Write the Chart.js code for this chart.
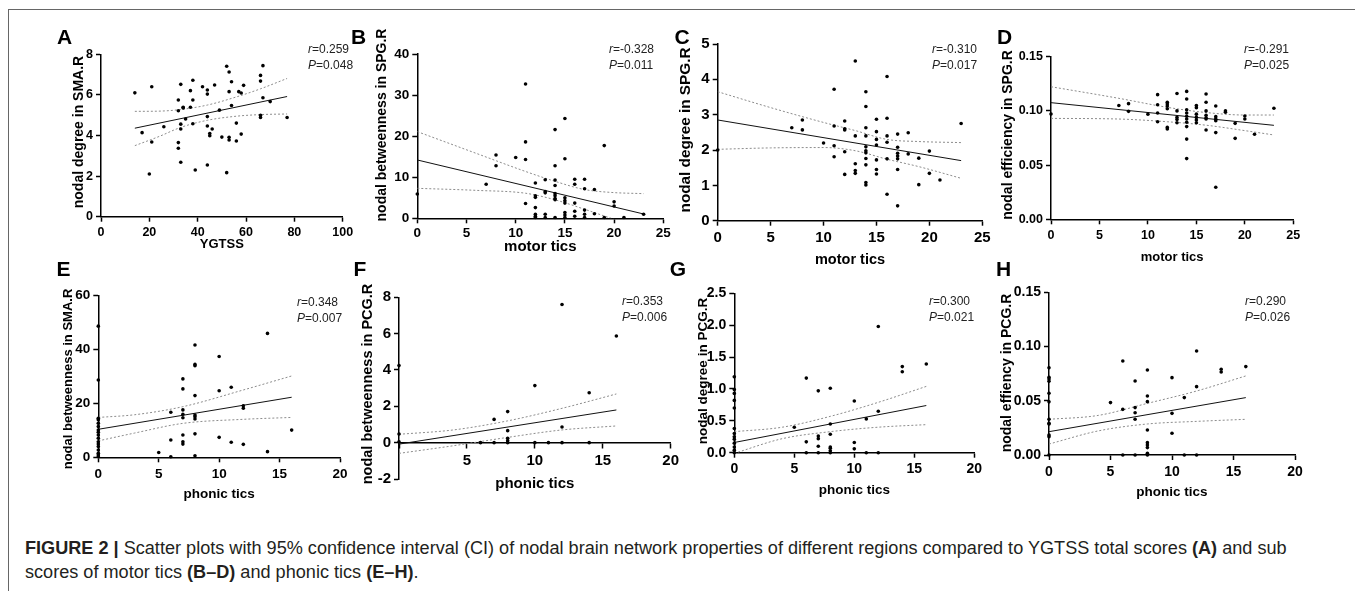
<!DOCTYPE html>
<html>
<head>
<meta charset="utf-8">
<script src="https://cdn.jsdelivr.net/npm/chart.js@4.4.0/dist/chart.umd.min.js"></script>
<style>
  body { margin: 0; width: 1355px; height: 591px; background: #fff; position: relative; overflow: hidden; font-family: "Liberation Sans", Arial, sans-serif; }
  .frame { position: absolute; left: 8px; top: 9px; width: 1400px; height: 700px; border-left: 1px solid #666; border-top: 1px solid #666; }
  canvas { position: absolute; }
  .lab { position: absolute; font-weight: bold; font-size: 21px; line-height: 21px; transform: translate(-50%, -50%); color: #000; }
  .ytitle { position: absolute; font-weight: bold; white-space: nowrap; color: #000; transform: translate(-50%, -50%) rotate(-90deg); line-height: 1; }
  .stat { position: absolute; font-size: 12px; line-height: 16px; color: #222; white-space: nowrap; }
  .caption { position: absolute; left: 25px; top: 536px; font-size: 17px; line-height: 24px; color: #231f20; white-space: nowrap; }
</style>
</head>
<body>
<div class="frame"></div>
<div class="caption" id="caption"><span id="capLine1"><b>FIGURE 2 |</b> Scatter plots with 95% confidence interval (CI) of nodal brain network properties of different regions compared to YGTSS total scores <b>(A)</b> and sub</span><br>scores of motor tics <b>(B–D)</b> and phonic tics <b>(E–H)</b>.</div>
<script>
// ---- data ----
const rValues = ["0.259", "-0.328", "-0.310", "-0.291", "0.348", "0.353", "0.300", "0.290"];
const pValues = ["0.048", "0.011", "0.017", "0.025", "0.007", "0.006", "0.021", "0.026"];

// A: YGTSS vs nodal degree SMA.R
const aX = [14,21,17,21,20,26,32,33,32,32,32,33,33,33,34,34,35,37,37,38,38,38,39,42,44,44,44,44,44,45,45,46,47,49,50,52,52,53,53,53,53,54,54,56,56,57,58,58,59,66,66,66,66,67,67,70,77];
const aY = [6.1,6.4,4.14,3.68,2.1,4.43,5.75,6.52,5.22,3.65,3.37,4.56,4.32,2.68,5.36,5.39,4.81,6.21,5.39,6.72,5.75,4.58,2.3,6.4,6.24,6.04,4.93,4.47,2.55,4.1,3.99,4.32,6.49,5.25,3.92,7.41,2.17,7.13,6.16,3.91,3.78,6.65,5.48,4.61,3.73,6.16,6.09,4.07,6.47,6.96,6.68,4.99,4.89,7.44,5.86,5.67,4.89];
const aFitX = [14, 77];
const aFitY = [4.36, 5.92];
const aCiX = [14, 24, 33, 44, 56, 66, 77];
const aCiHi = [5.19, 5.2, 5.28, 5.5, 5.9, 6.3, 6.81];
const aCiLo = [3.5, 3.95, 4.4, 4.75, 4.95, 5.03, 5.06];

// B: motor tics vs nodal betweenness SPG.R
const bX = [0,7,8,8,10,11,11,11,11,12,12,12,12,12,12,12,13,13,13,13,13,14,14,14,14,14,14,14,14,14,15,15,15,15,15,15,15,15,16,16,16,16,16,17,17,17,17,17,18,18,19,19,20,20,21,23];
const bY = [5.9,8.3,15.4,12.8,14.8,32.7,18.6,14.3,3.6,8.6,5.5,5.1,2.6,1.0,0.5,0.2,9.4,6.5,6.2,1.0,0.2,21.6,12.8,9.3,8.0,6.0,5.5,4.8,4.5,0.2,24.3,14.5,5.0,4.3,3.7,1.4,0.8,0.2,9.5,8.3,3.7,1.7,0.5,9.5,7.2,2.0,1.0,0.2,7.0,1.1,17.7,0.2,4.0,3.0,0.2,1.0];
const bFitX = [0, 23];
const bFitY = [14.2, 1.05];
const bCiX = [0, 6, 11, 14, 17, 19.7, 23];
const bCiHi = [21.1, 15.8, 11.4, 9.0, 7.0, 6.3, 6.0];
const bCiLo = [7.3, 6.8, 6.1, 4.5, 2.2, 0, -2.5];

// C: motor tics vs nodal degree SPG.R
const cX = [0,7,8,8,10,11,11,11,11,12,12,12,12,12,13,13,13,13,13,14,14,14,14,14,14,14,14,14,14,14,15,15,15,15,15,15,15,16,16,16,16,16,16,17,17,17,17,17,17,17,18,18,19,19,20,20,21,23];
const cY = [2.0,2.63,2.85,2.57,2.2,3.72,2.68,2.12,1.81,2.82,2.6,2.57,1.95,1.31,4.52,2.4,1.61,1.42,1.34,3.65,3.23,2.63,2.4,2.09,1.98,1.92,1.76,1.58,1.08,1.01,2.87,2.52,2.3,2.14,1.72,1.45,1.32,4.08,2.9,2.4,2.22,1.75,0.75,2.45,2.08,1.91,1.83,1.75,1.45,0.42,2.49,1.89,1.77,1.02,1.97,1.34,1.15,2.75];
const cFitX = [0, 23];
const cFitY = [2.85, 1.7];
const cCiX = [0, 5, 10, 13, 16, 19, 23];
const cCiHi = [3.65, 3.2, 2.78, 2.55, 2.3, 2.24, 2.21];
const cCiLo = [2.02, 2.06, 2.07, 1.98, 1.74, 1.53, 1.2];

// D: motor tics vs nodal efficiency SPG.R
const dX = [0,7,8,8,10,11,11,11,11,12,12,12,12,12,12,13,13,13,13,13,14,14,14,14,14,14,14,14,14,14,15,15,15,15,15,15,16,16,16,16,16,16,16,17,17,17,17,17,17,18,18,19,19,20,20,21,23];
const dY = [0.0971,0.105,0.1067,0.0996,0.097,0.115,0.1057,0.098,0.090,0.108,0.1064,0.1045,0.102,0.0848,0.0833,0.116,0.100,0.094,0.092,0.089,0.118,0.111,0.101,0.098,0.095,0.0925,0.0895,0.0855,0.074,0.056,0.105,0.103,0.097,0.094,0.0916,0.089,0.1156,0.108,0.100,0.096,0.0937,0.0925,0.0824,0.1045,0.0947,0.0925,0.091,0.080,0.0295,0.100,0.0987,0.0885,0.0747,0.0953,0.0925,0.0784,0.1024];
const dFitX = [0, 23];
const dFitY = [0.1076, 0.0867];
const dCiX = [0, 7, 12, 16, 20, 23];
const dCiHi = [0.1223, 0.1116, 0.1033, 0.0985, 0.0962, 0.0962];
const dCiLo = [0.0931, 0.0925, 0.09, 0.0868, 0.0818, 0.0778];

// E: phonic tics vs nodal betweenness SMA.R
const eX = [0,0,0,0,0,0,0,0,0,0,0,0,0,0,0,0,0,5,6,6,6,7,7,7,7,7,7,7,7,8,8,8,8,8,8,8,8,8,10,10,10,11,11,12,12,12,14,14,16];
const eY = [48.7,28.7,14.5,13.9,12.6,11.4,10.1,9.3,8.3,7.1,5.8,4.9,4.0,2.7,1.5,0.9,0.2,1.8,16.7,6.4,0.2,29.1,25.4,17.6,16.0,14.7,8.3,5.8,4.9,41.7,34.5,34.0,22.9,15.7,15.1,14.2,8.7,0.6,37.4,24.7,7.4,26.0,5.6,19.1,18.2,4.8,46.0,2.1,10.1];
const eFitX = [0, 16];
const eFitY = [10.4, 22.3];
const eCiX = [0, 3, 7, 12, 16];
const eCiHi = [14.8, 15.8, 18.8, 25.0, 30.2];
const eCiLo = [6.1, 9.0, 12.6, 14.1, 14.8];

// F: phonic tics vs nodal betweenness PCG.R
const fX = [0,0,0,6,7,7,8,8,8,8,8,10,10,11,12,12,12,14,14,16];
const fY = [4.24,0.48,0.05,0,1.28,0,1.71,0.66,0.24,0.11,0,3.14,0,0,7.6,0.86,0,2.75,0,5.87];
const fFitX = [0, 16];
const fFitY = [-0.08, 1.8];
const fCiX = [0, 4, 8, 12, 16];
const fCiHi = [0.46, 0.7, 1.2, 1.89, 2.68];
const fCiLo = [-0.59, -0.17, 0.29, 0.7, 0.92];

// G: phonic tics vs nodal degree PCG.R
const gX = [0,0,0,0,0,0,0,0,0,0,0,0,0,5,6,6,6,7,7,7,7,7,8,8,8,8,8,8,8,10,10,10,11,11,12,12,12,14,14,16];
const gY = [1.19,0.99,0.93,0.82,0.70,0.38,0.30,0.25,0.21,0.15,0.09,0.04,0,0.4,1.17,0.17,0,0.97,0.26,0.22,0.10,0,1.01,0.45,0.29,0.09,0.07,0.03,0,0.81,0.16,0.06,0.53,0,1.98,0.65,0,1.35,1.27,1.39];
const gFitX = [0, 16];
const gFitY = [0.16, 0.74];
const gCiX = [0, 4, 8, 12, 16];
const gCiHi = [0.33, 0.40, 0.57, 0.79, 1.04];
const gCiLo = [-0.01, 0.22, 0.33, 0.40, 0.44];

// H: phonic tics vs nodal effiency PCG.R
const hX = [0,0,0,0,0,0,0,0,0,0,0,0,5,6,6,6,7,7,7,7,7,8,8,8,8,8,8,8,8,8,10,10,10,11,11,12,12,12,14,14,16];
const hY = [0.0805,0.0716,0.070,0.068,0.0569,0.049,0.0329,0.0292,0.0286,0.0184,0.0169,0,0.0483,0.0867,0.0421,0,0.0682,0.0437,0.039,0.0329,0,0.0784,0.0544,0.0492,0.0231,0.0114,0.0092,0.0068,0.0015,0,0.0713,0.0384,0.020,0.0529,0,0.0959,0.063,0,0.079,0.0765,0.0815];
const hFitX = [0, 16];
const hFitY = [0.0215, 0.0529];
const hCiX = [0, 4, 8, 12, 16];
const hCiHi = [0.0329, 0.0365, 0.0476, 0.059, 0.0729];
const hCiLo = [0.0101, 0.0222, 0.0286, 0.031, 0.0329];

// ---- panel layout (pixel box of each plot area + font sizes) ----
const panels = [
  { letter: "A", lx: 64.5, ly: 35.5, sx: 308, sy: 41, tx: 78.3, ty: 131.5, x: aX, y: aY, fitX: aFitX, fitY: aFitY, ciX: aCiX, ciHi: aCiHi, ciLo: aCiLo,
    xr: [0, 100, 20], yr: [0, 8, 2], yDec: 0, xTitle: "YGTSS", yTitle: "nodal degree in SMA.R",
    axL: 101, axR: 342.7, axT: 54.3, axB: 216.7, W: 31, H: 34.4, tick: 12.5, xt: 13, yt: 14, pad: 3.5 },
  { letter: "B", lx: 358.5, ly: 35.5, sx: 609, sy: 41, tx: 380.7, ty: 125, x: bX, y: bY, fitX: bFitX, fitY: bFitY, ciX: bCiX, ciHi: bCiHi, ciLo: bCiLo,
    xr: [0, 25, 5], yr: [0, 40, 10], yDec: 0, xTitle: "motor tics", yTitle: "nodal betweenness in SPG.R",
    axL: 417.3, axR: 663.3, axT: 54, axB: 218.3, W: 45.7, H: 37.4, tick: 13.5, xt: 15, yt: 14, pad: 2 },
  { letter: "C", lx: 682, ly: 35.5, sx: 932, sy: 41, tx: 685, ty: 130, x: cX, y: cY, fitX: cFitX, fitY: cFitY, ciX: cCiX, ciHi: cCiHi, ciLo: cCiLo,
    xr: [0, 25, 5], yr: [0, 5, 1], yDec: 0, xTitle: "motor tics", yTitle: "nodal degree in SPG.R",
    axL: 717.7, axR: 982.3, axT: 44, axB: 220.7, W: 42.3, H: 48, tick: 15, xt: 14.5, yt: 15.3, pad: 3 },
  { letter: "D", lx: 1004.5, ly: 35.5, sx: 1244, sy: 41, tx: 1007, ty: 135, x: dX, y: dY, fitX: dFitX, fitY: dFitY, ciX: dCiX, ciHi: dCiHi, ciLo: dCiLo,
    xr: [0, 25, 5], yr: [0, 0.15, 0.05], yDec: 2, xTitle: "motor tics", yTitle: "nodal efficiency in SPG.R",
    axL: 1051, axR: 1293.3, axT: 56.7, axB: 219.3, W: 52.7, H: 45.2, tick: 12.5, xt: 13, yt: 14, pad: 4 },
  { letter: "E", lx: 63.5, ly: 267.5, sx: 297, sy: 293.5, tx: 67, ty: 379, x: eX, y: eY, fitX: eFitX, fitY: eFitY, ciX: eCiX, ciHi: eCiHi, ciLo: eCiLo,
    xr: [0, 20, 5], yr: [0, 60, 20], yDec: 0, xTitle: "phonic tics", yTitle: "nodal betweenness in SMA.R",
    axL: 98.3, axR: 340, axT: 295.7, axB: 457.3, W: 39.4, H: 43.8, tick: 13.5, xt: 13.5, yt: 13, pad: 3.5 },
  { letter: "F", lx: 360, ly: 267.5, sx: 622, sy: 292.5, tx: 367, ty: 384, x: fX, y: fY, fitX: fFitX, fitY: fFitY, ciX: fCiX, ciHi: fCiHi, ciLo: fCiLo,
    xr: [0, 20, 5], yr: [-2, 8, 2], yDec: 0, xTitle: "phonic tics", yTitle: "nodal betweenness in PCG.R",
    axL: 399, axR: 670.7, axT: 297.3, axB: 479, W: 41, H: 50.3, tick: 15, xt: 15, yt: 14.5, pad: 4, xAtZero: true, canvasBottom: 497 },
  { letter: "G", lx: 678, ly: 267.5, sx: 929, sy: 292.5, tx: 703, ty: 370.5, x: gX, y: gY, fitX: gFitX, fitY: gFitY, ciX: gCiX, ciHi: gCiHi, ciLo: gCiLo,
    xr: [0, 20, 5], yr: [0, 2.5, 0.5], yDec: 1, xTitle: "phonic tics", yTitle: "nodal degree in PCG.R",
    axL: 734.3, axR: 974.3, axT: 293.3, axB: 452.7, W: 39.4, H: 44.4, tick: 14, xt: 13.5, yt: 13.5, pad: 3 },
  { letter: "H", lx: 1003.5, ly: 267.5, sx: 1245, sy: 292.5, tx: 1005.7, ty: 372.5, x: hX, y: hY, fitX: hFitX, fitY: hFitY, ciX: hCiX, ciHi: hCiHi, ciLo: hCiLo,
    xr: [0, 20, 5], yr: [0, 0.15, 0.05], yDec: 2, xTitle: "phonic tics", yTitle: "nodal effiency in PCG.R",
    axL: 1049, axR: 1295, axT: 292.3, axB: 455, W: 52.4, H: 44.8, tick: 14, xt: 13.5, yt: 14, pad: 4 }
];

const FONT = "'Liberation Sans', Arial, sans-serif";

function pts(xs, ys) {
  return xs.map((v, i) => ({ x: v, y: ys[i] }));
}

function addDiv(cls, html, left, top, extra) {
  const d = document.createElement("div");
  d.className = cls;
  d.innerHTML = html;
  d.style.left = left + "px";
  d.style.top = top + "px";
  if (extra) Object.assign(d.style, extra);
  document.body.appendChild(d);
}

function makePanel(p, idx) {
  const cl = Math.floor(p.axL - p.W);
  const ct = Math.floor(p.axT - 12);
  const cw = Math.ceil(p.axR + 16) - cl;
  const ch = (p.canvasBottom ? p.canvasBottom : Math.ceil(p.axB + p.H)) - ct;
  const wY = p.axL - cl;
  const padT = p.axT - ct;
  const padR = cl + cw - p.axR;
  let hX = p.H, padB = 0;
  if (p.xAtZero) padB = ct + ch - p.axB;
  else hX = ct + ch - p.axB;

  const c = document.createElement("canvas");
  c.width = cw;
  c.height = ch;
  c.style.left = cl + "px";
  c.style.top = ct + "px";
  c.style.width = cw + "px";
  c.style.height = ch + "px";
  document.body.appendChild(c);

  const tickFont = { family: FONT, size: p.tick, weight: "bold" };
  const axisCommon = {
    type: "linear",
    grid: { drawOnChartArea: false, drawTicks: true, tickLength: 5, tickColor: "#000", tickWidth: 1.5 },
    border: { display: true, color: "#000", width: 1.5 }
  };

  new Chart(c, {
    type: "scatter",
    data: {
      datasets: [
        { data: pts(p.x, p.y), pointRadius: 1.8, pointBackgroundColor: "#000", pointBorderWidth: 0, clip: false, order: 0 },
        { data: pts(p.fitX, p.fitY), showLine: true, borderColor: "#111", borderWidth: 1, pointRadius: 0, order: 1 },
        { data: pts(p.ciX, p.ciHi), showLine: true, borderColor: "#8c8c8c", borderWidth: 1, borderDash: [2, 2],
          pointRadius: 0, cubicInterpolationMode: "monotone", order: 2 },
        { data: pts(p.ciX, p.ciLo), showLine: true, borderColor: "#8c8c8c", borderWidth: 1, borderDash: [2, 2],
          pointRadius: 0, cubicInterpolationMode: "monotone", order: 3 }
      ]
    },
    options: {
      responsive: false,
      animation: false,
      devicePixelRatio: 1,
      events: [],
      layout: { autoPadding: false, padding: { left: 0, top: padT, right: padR, bottom: padB } },
      plugins: { legend: { display: false }, tooltip: { enabled: false } },
      scales: {
        x: {
          ...axisCommon,
          position: p.xAtZero ? { y: 0 } : "bottom",
          min: p.xr[0], max: p.xr[1],
          ticks: {
            stepSize: p.xr[2], font: tickFont, color: "#000", padding: p.pad, maxRotation: 0, autoSkip: false,
            callback: v => (p.xAtZero && v === 0) ? "" : String(v)
          },
          title: { display: true, text: p.xTitle, color: "#000", padding: 0, font: { family: FONT, size: p.xt, weight: "bold" } },
          afterFit: s => { s.height = hX; s.paddingLeft = 0; s.paddingRight = 0; }
        },
        y: {
          ...axisCommon,
          position: "left",
          min: p.yr[0], max: p.yr[1],
          ticks: {
            stepSize: p.yr[2], font: tickFont, color: "#000", padding: 3, autoSkip: false,
            callback: v => Number(v).toFixed(p.yDec)
          },
          title: { display: false },
          afterFit: s => { s.width = wY; s.paddingTop = 0; s.paddingBottom = 0; }
        }
      }
    }
  });

  // y-axis title (placed by hand: in the figure it is not centred on the axis)
  addDiv("ytitle", p.yTitle, p.tx, p.ty, { fontSize: p.yt + "px" });
  // panel letter
  addDiv("lab", p.letter, p.lx, p.ly);
  // r / P annotation
  addDiv("stat", "<i>r</i>=" + rValues[idx] + "<br><i>P</i>=" + pValues[idx], p.sx, p.sy);
}

panels.forEach(makePanel);

// fit caption first line to the width it has in the figure
const line1 = document.getElementById("capLine1");
const cap = document.getElementById("caption");
const w = line1.getBoundingClientRect().width;
if (w > 0) cap.style.fontSize = (17 * 1262 / w).toFixed(2) + "px";
</script>
</body>
</html>
